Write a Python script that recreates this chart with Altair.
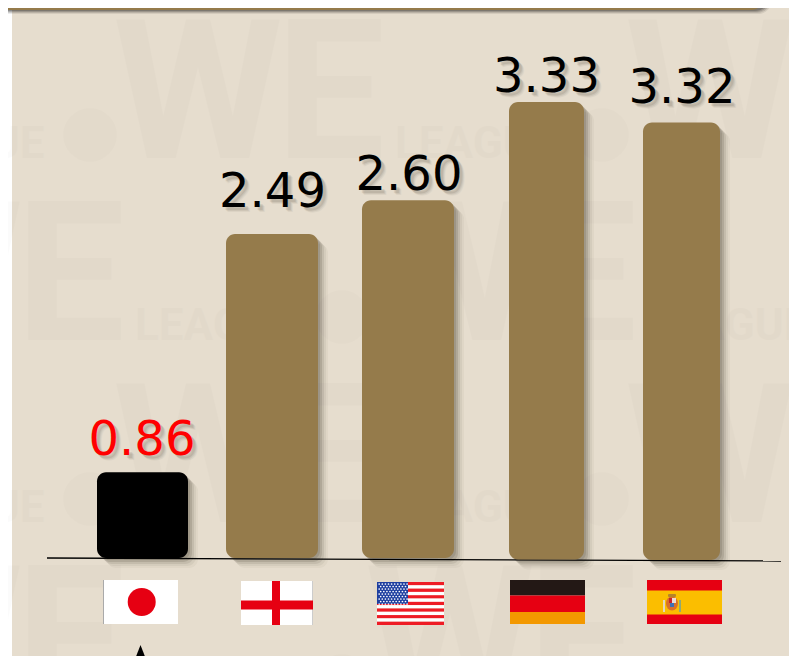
import base64
import altair as alt
import pandas as pd

# Data
countries = ["Japan", "England", "USA", "Germany", "Spain"]
slots = [0, 1, 2, 3, 4]
values = ["0.86", "2.49", "2.60", "3.33", "3.32"]
# The source graphic is not drawn to scale, so drawn bar extents are read separately (same units)
bar_top = [0.65, 2.455, 2.71, 3.455, 3.30]
bar_base = [0.0, 0.0, 0.0, -0.012, -0.015]
label_base = [0.78, 2.66, 2.79, 3.53, 3.45]

BROWN = "#957B4B"
BEIGE = "#E6DDCE"
FONT = "DejaVu Sans"


def svg_uri(body, w=75, h=44):
    svg = f'<svg xmlns="http://www.w3.org/2000/svg" viewBox="0 0 {w} {h}" preserveAspectRatio="none">{body}</svg>'
    return "data:image/svg+xml;base64," + base64.b64encode(svg.encode()).decode()


jp = '<rect width="75" height="44" fill="#fff"/><rect width="1" height="44" fill="#aaa"/><circle cx="38.7" cy="22" r="14" fill="#E60012"/>'
en = '<rect width="72" height="44" fill="#fff"/><rect x="71.4" width=".6" height="44" fill="#aaa"/><rect x="31" width="8" height="44" fill="#E60012"/><rect y="19.5" width="72" height="9" fill="#E60012"/>'
stripes = "".join(
    f'<rect y="{i * 43 / 13:.2f}" width="67" height="{43 / 13:.2f}" fill="{"#EE1C25" if i % 2 == 0 else "#fff"}"/>'
    for i in range(13)
)
stars = "".join(
    f'<circle cx="{2.2 + c * 3.1 + (1.5 if r % 2 else 0):.1f}" cy="{2 + r * 2.5:.1f}" r=".85" fill="#fff"/>'
    for r in range(9)
    for c in range(9 if r % 2 else 10)
)
us = stripes + '<rect width="31" height="22" fill="#1E3FA0"/>' + stars
de = '<rect width="75" height="15.5" fill="#231815"/><rect y="15.5" width="75" height="16.5" fill="#E60012"/><rect y="32" width="75" height="12" fill="#F39800"/>'
es = (
    '<rect width="75" height="44" fill="#E60012"/><rect y="10.5" width="75" height="24" fill="#FBBE00"/>'
    '<ellipse cx="25" cy="23.5" rx="6" ry="7" fill="#D9702A"/><rect x="22" y="18" width="4" height="5" fill="#C8242B"/>'
    '<rect x="25" y="18" width="4" height="5" fill="#EBDDD5"/><rect x="23" y="23" width="4" height="4" fill="#3F6FB5"/>'
    '<rect x="16" y="20" width="2" height="12" fill="#E3D8C0"/><rect x="32" y="20" width="2" height="12" fill="#8FA878"/>'
    '<rect x="21" y="14" width="8" height="3" rx="1" fill="#B5842A"/>'
)
flag_uris = [svg_uri(jp), svg_uri(en, 72), svg_uri(us, 67, 43), svg_uri(de), svg_uri(es)]

df = pd.DataFrame(
    {"country": countries, "slot": slots, "value": values, "top": bar_top, "base": bar_base, "lab": label_base, "flag": flag_uris}
)
one = pd.DataFrame({"a": [0]})

# The slots are unevenly spaced in the original: piecewise-linear scales give each its place (page x minus 8 px margin)
bar_scale = alt.Scale(domain=slots, range=[134.5, 264, 400, 538.5, 673.5], padding=0)
label_scale = alt.Scale(domain=slots, range=[134, 264.5, 401, 538.5, 674])
flag_scale = alt.Scale(domain=slots, range=[132.5, 269, 402.5, 539.5, 676.5])
y_scale = alt.Scale(domain=[0, 4], range=[550, 22])
bar_widths = {"Japan": 91, "England": 92, "USA": 92, "Germany": 75, "Spain": 77}

x_bar = alt.X("slot:Q", scale=bar_scale, axis=None)
x_lab = alt.X("slot:Q", scale=label_scale, axis=None)
x_flag = alt.X("slot:Q", scale=flag_scale, axis=None)
y_bar = alt.Y("top:Q", scale=y_scale, axis=None)
y_lab = alt.Y("lab:Q", scale=y_scale, axis=None)

layers = []
# Panel
layers.append(
    alt.Chart(one).mark_rect(color=BEIGE).encode(x=alt.value(4), x2=alt.value(781), y=alt.value(-2), y2=alt.value(648))
)

# Watermark, repeated "● WE LEAGUE" pattern
WM = dict(color="#000000", opacity=0.012, align="left", baseline="alphabetic", font="Roboto", fontWeight="bold")
for i, base in enumerate([150, 332, 514, 696]):
    shift = 0 if i % 2 == 0 else -260
    for k in (0, 1, 2):
        dx = shift + k * 512
        for txt, x, size in [("W", 105, 194), ("E", 268, 194), ("LEAGUE", -125, 44)]:
            layers.append(
                alt.Chart(one).mark_text(text=txt, fontSize=size, **WM).encode(x=alt.value(x + dx), y=alt.value(base))
            )
        layers.append(
            alt.Chart(one)
            .mark_point(shape="circle", filled=True, size=2916, color="#000000", opacity=0.012)
            .encode(x=alt.value(82 + dx), y=alt.value(base - 23))
        )

# Top band (its body lies mostly above the page area available)
for off, op in [(4, 0.08), (3, 0.12), (2, 0.16), (1, 0.2)]:
    layers.append(
        alt.Chart(one)
        .mark_rect(color="#000000", opacity=op, cornerRadius=14)
        .encode(x=alt.value(-30), x2=alt.value(760 + off), y=alt.value(-40), y2=alt.value(2 + off))
    )
layers.append(
    alt.Chart(one)
    .mark_rect(color=BROWN, cornerRadius=14)
    .encode(x=alt.value(-30), x2=alt.value(757), y=alt.value(-40), y2=alt.value(2))
)

# Bar shadows
for off, op in [(10, 0.04), (8, 0.06), (6, 0.1), (4, 0.14), (2, 0.14)]:
    for c, w in bar_widths.items():
        layers.append(
            alt.Chart(df)
            .transform_filter(alt.datum.country == c)
            .mark_bar(color="#3a3324", opacity=op, cornerRadius=9, width=w, xOffset=off, yOffset=off, y2Offset=off)
            .encode(x=x_bar, y=y_bar, y2="base:Q")
        )

# Baseline
layers.append(
    alt.Chart(one)
    .mark_rule(color="#000000", strokeWidth=1.3)
    .encode(x=alt.value(39), x2=alt.value(773), y=alt.value(550), y2=alt.value(553))
)

# Bars
for c, w in bar_widths.items():
    layers.append(
        alt.Chart(df)
        .transform_filter(alt.datum.country == c)
        .mark_bar(cornerRadius=9, width=w, color="#000000" if c == "Japan" else BROWN)
        .encode(x=x_bar, y=y_bar, y2="base:Q")
    )

# Value labels with soft shadow
for off, op in [(5, 0.05), (4, 0.08), (3, 0.1)]:
    layers.append(
        alt.Chart(df)
        .mark_text(font=FONT, fontSize=48, align="center", baseline="alphabetic", dx=off, dy=off, color="#3a3324", opacity=op)
        .encode(x=x_lab, y=y_lab, text="value:N")
    )
layers.append(
    alt.Chart(df)
    .mark_text(font=FONT, fontSize=48, align="center", baseline="alphabetic")
    .encode(
        x=x_lab,
        y=y_lab,
        text="value:N",
        color=alt.Color("country:N", scale=alt.Scale(domain=countries, range=["#FF0000"] + ["#000000"] * 4), legend=None),
    )
)

# Flags
flag_sizes = {"Japan": (75, 44, 594), "England": (72, 44, 595), "USA": (67, 43, 595.5), "Germany": (75, 44, 594), "Spain": (75, 44, 594)}
for c, (w, h, yc) in flag_sizes.items():
    layers.append(
        alt.Chart(df)
        .transform_filter(alt.datum.country == c)
        .mark_image(width=w, height=h, aspect=False, align="center", baseline="middle")
        .encode(x=x_flag, y=alt.value(yc), url="flag:N")
    )

# Arrow tip under Japan
layers.append(
    alt.Chart(df)
    .transform_filter(alt.datum.country == "Japan")
    .mark_point(shape="M0,0L.39,1L-.39,1Z", filled=True, size=6400, color="#000000", opacity=1)
    .encode(x=x_flag, y=alt.value(637))
)

chart = (
    alt.layer(*layers)
    .resolve_scale(x="independent", color="independent")
    .properties(width=781, height=648, padding=0, autosize=alt.AutoSizeParams(type="none"), background="#FFFFFF")
    .configure_view(stroke=None)
)

chart.save("out.html", embed_options={"renderer": "svg", "actions": False})
